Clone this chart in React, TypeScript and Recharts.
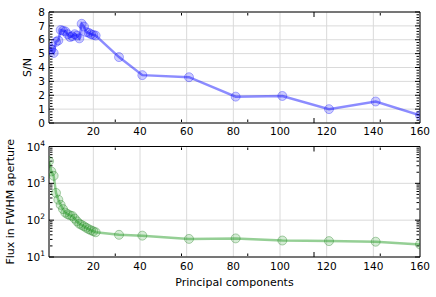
import React from 'react';
import { LineChart, Line, XAxis, YAxis, CartesianGrid, Label } from 'recharts';

// principal components used
const components = [
  1, 2, 3, 4, 5, 6, 7, 8, 9, 10, 11, 12, 13, 14, 15, 16, 17, 18, 19, 20, 21, 31, 41, 61, 81, 101, 121, 141, 160,
];
const snr = [
  5.45, 5.3, 5.05, 5.85, 5.95, 6.7, 6.65, 6.6, 6.4, 6.2, 6.25, 6.4, 6.3, 6.1, 7.15, 6.95, 6.55, 6.5, 6.4, 6.35,
  6.3, 4.75, 3.45, 3.3, 1.9, 1.95, 1.0, 1.55, 0.55,
];
const flux = [
  4000, 2100, 1600, 550, 360, 260, 200, 160, 145, 135, 130, 110, 93, 80, 74, 68, 62, 57, 53, 50, 47, 40, 38, 31,
  32, 28, 27, 26, 22,
];

const xTicks = [20, 40, 60, 80, 100, 120, 140, 160];
const xMinorTicks = [5, 10, 15, 25, 30, 35, 45, 50, 55, 65, 70, 75, 85, 90, 95, 105, 110, 115, 125, 130, 135, 145, 150, 155];
const snrTicks = [0, 1, 2, 3, 4, 5, 6, 7, 8];
const snrMinorTicks = [0.2, 0.4, 0.6, 0.8, 1.2, 1.4, 1.6, 1.8, 2.2, 2.4, 2.6, 2.8, 3.2, 3.4, 3.6, 3.8, 4.2, 4.4, 4.6, 4.8, 5.2, 5.4, 5.6, 5.8, 6.2, 6.4, 6.6, 6.8, 7.2, 7.4, 7.6, 7.8];
const fluxTicks = [10, 100, 1000, 10000];
const fluxMinorTicks = [20, 30, 40, 50, 60, 70, 80, 90, 200, 300, 400, 500, 600, 700, 800, 900, 2000, 3000, 4000, 5000, 6000, 7000, 8000, 9000];

const rows = components.map((x, i) => ({ x, snr: snr[i], flux: flux[i] }));

const FONT = 'DejaVu Sans, sans-serif';
const tickStyle = { fontSize: 10.5, fill: '#000', fontFamily: FONT };
const noLabel = () => <g />;

const LogTick = (props: any) => {
  const { x, y, payload } = props;
  const e = Math.round(Math.log10(payload.value));
  return (
    <text x={x} y={y} dy={4} textAnchor="end" fontSize={10.5} fontFamily={FONT} fill="#000">
      10
      <tspan dy={-5} fontSize={7.5}>
        {e}
      </tspan>
    </text>
  );
};

const yLabel = (text: string, cx: number) => (props: any) => {
  const { y, height } = props.viewBox;
  const cy = y + height / 2;
  return (
    <text
      x={cx}
      y={cy}
      transform={`rotate(-90, ${cx}, ${cy})`}
      textAnchor="middle"
      dominantBaseline="central"
      fontSize={11}
      fontFamily={FONT}
      fill="#000"
    >
      {text}
    </text>
  );
};

// spines and inward tick marks, matplotlib style
function frameAxes(yMajor: number[], yMinor: number[], yDomain: number[], log: boolean) {
  const ys = log ? { scale: 'log' as const } : {};
  const xa = { type: 'number' as const, domain: [1, 160], allowDataOverflow: true, tick: noLabel, stroke: '#000', mirror: true, height: 1, interval: 0 };
  const ya = { type: 'number' as const, ...ys, domain: yDomain, allowDataOverflow: true, tick: noLabel, stroke: '#000', mirror: true, width: 1, interval: 0 };
  return [
    <XAxis key="t" xAxisId="top" orientation="top" ticks={xTicks} tickSize={5} {...xa} />,
    <XAxis key="tn" xAxisId="topMinor" orientation="top" ticks={xMinorTicks} tickSize={2.5} axisLine={false} {...xa} />,
    <XAxis key="b" xAxisId="bot" orientation="bottom" ticks={xTicks} tickSize={5} axisLine={false} {...xa} />,
    <XAxis key="bn" xAxisId="botMinor" orientation="bottom" ticks={xMinorTicks} tickSize={2.5} axisLine={false} {...xa} />,
    <YAxis key="r" yAxisId="right" orientation="right" ticks={yMajor} tickSize={5} {...ya} />,
    <YAxis key="rn" yAxisId="rightMinor" orientation="right" ticks={yMinor} tickSize={2.5} axisLine={false} {...ya} />,
    <YAxis key="l" yAxisId="left" orientation="left" ticks={yMajor} tickSize={5} axisLine={false} {...ya} />,
    <YAxis key="ln" yAxisId="leftMinor" orientation="left" ticks={yMinor} tickSize={2.5} axisLine={false} {...ya} />,
  ];
}

export default function App() {
  return (
    <div style={{ position: 'absolute', left: 0, top: 0, width: 436, height: 297, background: '#fff', fontFamily: FONT }}>
      <div style={{ position: 'absolute', left: 0, top: 0 }}>
        <LineChart width={436} height={145} data={rows} margin={{ top: 12, right: 16, left: 0, bottom: 0 }}>
          <CartesianGrid stroke="#dadada" strokeWidth={1} xAxisId="main" yAxisId="main" />
          <XAxis
            xAxisId="main"
            dataKey="x"
            type="number"
            domain={[1, 160]}
            allowDataOverflow
            ticks={xTicks}
            interval={0}
            height={22}
            tickLine={false}
            tickSize={0}
            tickMargin={5}
            tick={tickStyle}
            stroke="#000"
          />
          <YAxis
            yAxisId="main"
            type="number"
            domain={[0, 8]}
            allowDataOverflow
            ticks={snrTicks}
            interval={0}
            width={49}
            tickLine={false}
            tickSize={0}
            tickMargin={4}
            tick={tickStyle}
            stroke="#000"
          >
            <Label content={yLabel('S/N', 27)} />
          </YAxis>
          {frameAxes(snrTicks, snrMinorTicks, [0, 8], false)}
          <Line
            xAxisId="main"
            yAxisId="main"
            dataKey="snr"
            stroke="#0000ff"
            strokeOpacity={0.45}
            strokeWidth={2.5}
            dot={{ r: 4.5, fill: '#0000ff', fillOpacity: 0.2, stroke: '#0000ff', strokeOpacity: 0.3, strokeWidth: 1 }}
            isAnimationActive={false}
          />
        </LineChart>
      </div>
      <div style={{ position: 'absolute', left: 0, top: 135 }}>
        <LineChart width={436} height={162} data={rows} margin={{ top: 11.5, right: 16, left: 0, bottom: 0 }}>
          <CartesianGrid stroke="#dadada" strokeWidth={1} xAxisId="main" yAxisId="main" />
          <XAxis
            xAxisId="main"
            dataKey="x"
            type="number"
            domain={[1, 160]}
            allowDataOverflow
            ticks={xTicks}
            interval={0}
            height={40}
            tickLine={false}
            tickSize={0}
            tickMargin={5.5}
            tick={tickStyle}
            stroke="#000"
          >
            <Label
              value="Principal components"
              position="insideBottom"
              offset={11}
              style={{ fontSize: 11, fill: '#000', fontFamily: FONT }}
            />
          </XAxis>
          <YAxis
            yAxisId="main"
            type="number"
            scale="log"
            domain={[10, 10000]}
            allowDataOverflow
            ticks={fluxTicks}
            interval={0}
            width={49}
            tickLine={false}
            tickSize={0}
            tickMargin={4}
            tick={<LogTick />}
            stroke="#000"
          >
            <Label content={yLabel('Flux in FWHM aperture', 10)} />
          </YAxis>
          {frameAxes(fluxTicks, fluxMinorTicks, [10, 10000], true)}
          <Line
            xAxisId="main"
            yAxisId="main"
            dataKey="flux"
            stroke="#2ca02c"
            strokeOpacity={0.5}
            strokeWidth={2.5}
            dot={{ r: 4.5, fill: '#2ca02c', fillOpacity: 0.2, stroke: '#1a7a1a', strokeOpacity: 0.35, strokeWidth: 1 }}
            isAnimationActive={false}
          />
        </LineChart>
      </div>
    </div>
  );
}
